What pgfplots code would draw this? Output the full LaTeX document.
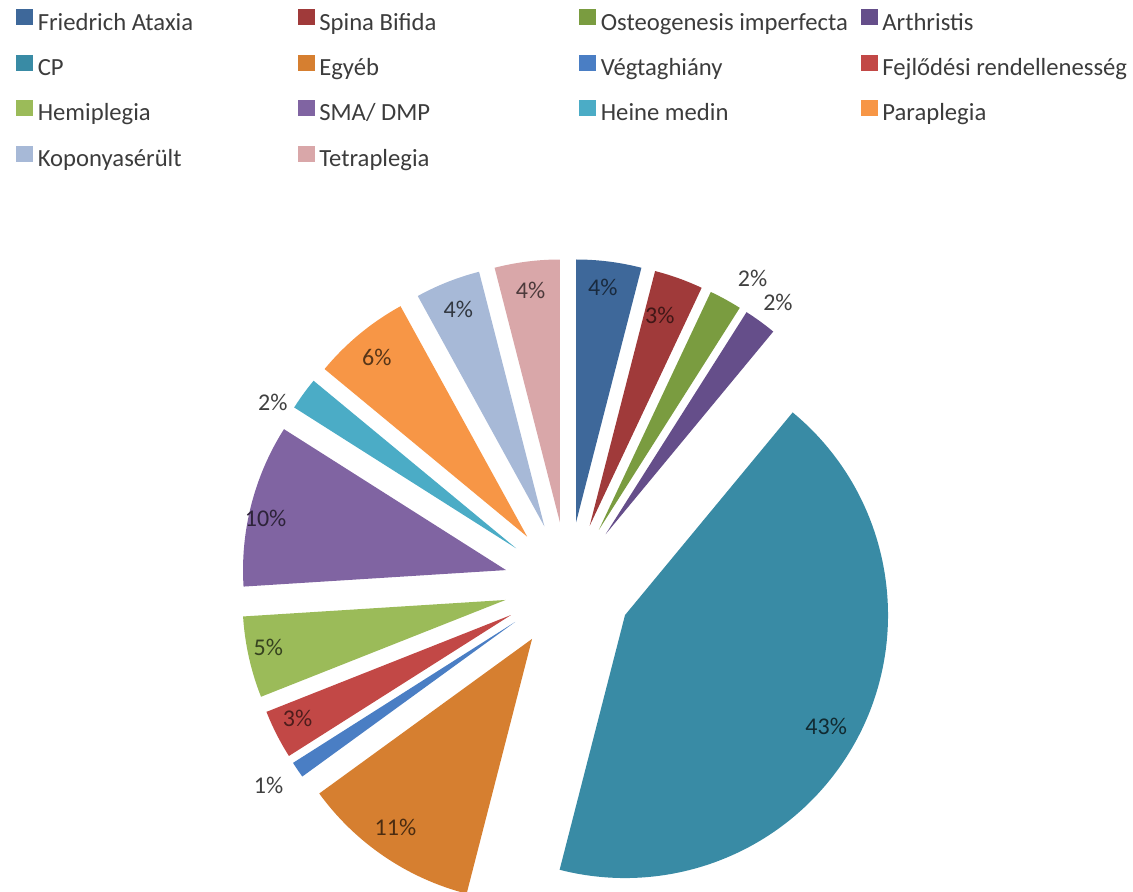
\documentclass[border=0pt]{standalone}
\usepackage{pgfplots}
\pgfplotsset{compat=1.18}
\usepackage{fontspec}
\setmainfont{Carlito}

% slice colours (Excel 2007 palette)
\definecolor{cFA}{RGB}{62,104,154}
\definecolor{cSB}{RGB}{160,58,58}
\definecolor{cOI}{RGB}{122,156,64}
\definecolor{cAR}{RGB}{101,78,138}
\definecolor{cCP}{RGB}{57,139,165}
\definecolor{cEG}{RGB}{214,127,48}
\definecolor{cVH}{RGB}{74,126,196}
\definecolor{cFR}{RGB}{194,72,70}
\definecolor{cHE}{RGB}{155,187,89}
\definecolor{cSM}{RGB}{128,100,162}
\definecolor{cHM}{RGB}{75,172,198}
\definecolor{cPA}{RGB}{247,150,70}
\definecolor{cKO}{RGB}{167,185,215}
\definecolor{cTE}{RGB}{217,167,169}
\definecolor{legtext}{RGB}{60,60,60}
\definecolor{outlab}{RGB}{64,64,64}

\newcommand\leg{\fontsize{18.5}{22}\selectfont}
\newcommand\lbl{\fontsize{18}{21}\selectfont}
\newcommand\ent[1]{\makebox[191pt][l]{#1}}

% pie: centre (568,306) px, radius 263 px, every slice pulled out 64 px
% #1 start %, #2 end %, #3 colour, #4 label, #5 label distance px,
% #6 label direction (deg, clockwise from top), #7 label colour
\newcommand\slice[7]{%
  \fill[#3] (axis cs:{568+64*sin((#1+#2)*1.8)},{306+64*cos((#1+#2)*1.8)})
    -- ++({90-3.6*#1}:197.25pt)
    arc[start angle={90-3.6*#1}, end angle={90-3.6*#2}, radius=197.25pt] -- cycle;
  \node[text=#7, font=\lbl, inner sep=0pt]
    at (axis cs:{568+64*sin((#1+#2)*1.8)+#5*sin(#6)},{306+64*cos((#1+#2)*1.8)+#5*cos(#6)}) {#4};
}

\begin{document}
\begin{tikzpicture}
\useasboundingbox (0,0) rectangle (849.75pt,669pt);
\begin{axis}[
  at={(0,0)}, anchor=origin,
  x=0.75pt, y=0.75pt,
  xmin=0, xmax=1133, ymin=0, ymax=892,
  hide axis, clip=false,
  legend columns=4,
  legend image code/.code={\fill[#1] (0pt,0.2pt) rectangle (12pt,11.4pt);},
  legend style={
    at={(axis cs:16,883)}, anchor=north west, inner sep=0pt,
    draw=none, fill=none, font=\leg, text=legtext,
    row sep=14.5pt,
    nodes={inner sep=0pt, text height=12pt, text depth=4pt},
    /tikz/every odd column/.append style={column sep=3.75pt},
    /tikz/every even column/.append style={column sep=4pt},
  },
]
\addlegendimage{cFA}\addlegendentry{\ent{Friedrich Ataxia}}
\addlegendimage{cSB}\addlegendentry{\ent{Spina Bifida}}
\addlegendimage{cOI}\addlegendentry{\ent{Osteogenesis imperfecta}}
\addlegendimage{cAR}\addlegendentry{\ent{Arthristis}}
\addlegendimage{cCP}\addlegendentry{\ent{CP}}
\addlegendimage{cEG}\addlegendentry{\ent{Egyéb}}
\addlegendimage{cVH}\addlegendentry{\ent{Végtaghiány}}
\addlegendimage{cFR}\addlegendentry{\ent{Fejlődési rendellenesség}}
\addlegendimage{cHE}\addlegendentry{\ent{Hemiplegia}}
\addlegendimage{cSM}\addlegendentry{\ent{SMA/ DMP}}
\addlegendimage{cHM}\addlegendentry{\ent{Heine medin}}
\addlegendimage{cPA}\addlegendentry{\ent{Paraplegia}}
\addlegendimage{cKO}\addlegendentry{\ent{Koponyasérült}}
\addlegendimage{cTE}\addlegendentry{\ent{Tetraplegia}}

\slice{0}{4}{cFA}{4\%}{237}{6.5}{cFA!40!black}
\slice{4}{7}{cSB}{3\%}{222}{18.4}{cSB!40!black}
\slice{7}{9}{cOI}{2\%}{295}{31.4}{outlab}
\slice{9}{11}{cAR}{2\%}{289}{36.6}{outlab}
\slice{11}{54}{cCP}{43\%}{230}{119}{cCP!30!black}
\slice{54}{65}{cEG}{11\%}{233}{215.9}{cEG!35!black}
\slice{65}{66}{cVH}{1\%}{296}{236.4}{outlab}
\slice{66}{69}{cFR}{3\%}{237}{244.2}{cFR!40!black}
\slice{69}{74}{cHE}{5\%}{242}{258.6}{cHE!35!black}
\slice{74}{84}{cSM}{10\%}{246}{282.2}{cSM!35!black}
\slice{84}{86}{cHM}{2\%}{284}{301}{outlab}
\slice{86}{92}{cPA}{6\%}{234}{320}{cPA!35!black}
\slice{92}{96}{cKO}{4\%}{234}{338.4}{cKO!30!black}
\slice{96}{100}{cTE}{4\%}{234}{352.8}{cTE!35!black}
\end{axis}
\end{tikzpicture}
\end{document}
